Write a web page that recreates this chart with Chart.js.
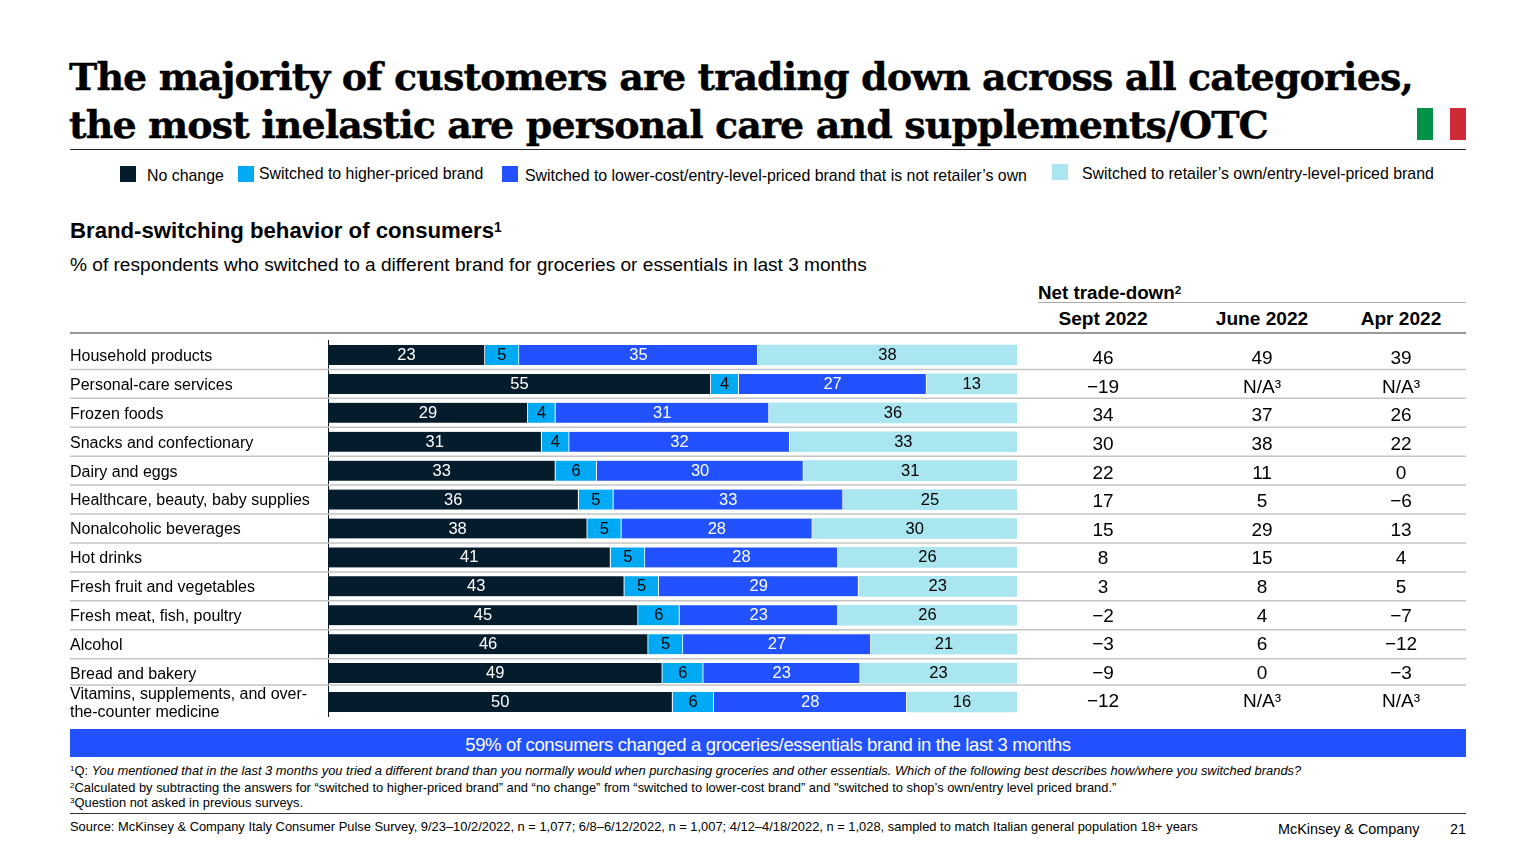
<!DOCTYPE html>
<html lang="en">
<head>
  <meta charset="UTF-8">
  <title>Brand-switching behavior of consumers</title>
  <script src="https://cdn.jsdelivr.net/npm/chart.js"></script>
  <style>
    body { margin: 0; background: #fff; width: 1536px; height: 864px; overflow: hidden; position: relative; font-family: 'Liberation Sans', sans-serif; color: #000; }
    .t { position: absolute; white-space: nowrap; line-height: 1; }
    .t sup { font-size: 62%; line-height: 0; vertical-align: baseline; position: relative; top: -0.45em; }
    .rule { position: absolute; left: 70px; width: 1396px; }
    h1 { position: absolute; left: 69px; top: 53px; margin: 0; font: bold 38px/48px 'DejaVu Serif', serif; letter-spacing: -0.9px; -webkit-text-stroke: 0.4px #000; color: #000; white-space: nowrap; }
    #chartWrapper { position: absolute; left: 70px; top: 320px; width: 1396px; height: 410px; }
    #banner { position: absolute; left: 70px; top: 729px; width: 1396px; height: 28px; background: #2251ff; color: #fff; text-align: center; font-size: 18.5px; line-height: 31px; letter-spacing: -0.35px; }
    #flag { position: absolute; left: 1417px; top: 108px; width: 49px; height: 32px; background: linear-gradient(90deg, #009246 33.3%, #fff 33.3%, #fff 66.6%, #ce2b37 66.6%); }
    .swatch { position: absolute; width: 16px; height: 16px; }
    .head { font-weight: bold; font-size: 19.1px; transform: translateX(-50%); }
    .note { font-size: 12.9px; }
  </style>
</head>
<body>
  <h1>The majority of customers are trading down across all categories,<br>the most inelastic are personal care and supplements/OTC</h1>
  <div id="flag"></div>
  <div class="rule" style="top:149px;height:1px;background:#222"></div>

  <div id="legend"></div>

  <div class="t" style="left:70px;top:220px;font-size:22.2px;font-weight:bold">Brand-switching behavior of consumers<sup>1</sup></div>
  <div class="t" style="left:70px;top:255px;font-size:19.1px">% of respondents who switched to a different brand for groceries or essentials in last 3 months</div>

  <div class="t" style="left:1038px;top:284px;font-size:18.8px;font-weight:bold">Net trade-down<sup>2</sup></div>
  <div class="rule" style="left:1038px;width:428px;top:302px;height:1px;background:#aaa"></div>
  <div class="t head" style="left:1103px;top:309px">Sept 2022</div>
  <div class="t head" style="left:1262px;top:309px">June 2022</div>
  <div class="t head" style="left:1401px;top:309px">Apr 2022</div>
  <div class="rule" style="top:332px;height:2px;background:#999"></div>

  <div id="chartWrapper"><canvas id="brandChart" width="1396" height="410"></canvas></div>

  <div id="banner">59% of consumers changed a groceries/essentials brand in the last 3 months</div>

  <div class="t note" style="left:70px;top:765px"><sup>1</sup>Q: <i>You mentioned that in the last 3 months you tried a different brand than you normally would when purchasing groceries and other essentials. Which of the following best describes how/where you switched brands?</i></div>
  <div class="t note" style="left:70px;top:782px"><sup>2</sup>Calculated by subtracting the answers for “switched to higher-priced brand” and “no change” from “switched to lower-cost brand” and "switched to shop’s own/entry level priced brand.”</div>
  <div class="t note" style="left:70px;top:797px"><sup>3</sup>Question not asked in previous surveys.</div>
  <div class="rule" style="top:813px;height:1px;background:#333"></div>
  <div class="t note" style="left:70px;top:821px">Source: McKinsey &amp; Company Italy Consumer Pulse Survey, 9/23–10/2/2022, n = 1,077; 6/8–6/12/2022, n = 1,007; 4/12–4/18/2022, n = 1,028, sampled to match Italian general population 18+ years</div>
  <div class="t" style="left:1278px;top:822px;font-size:14.4px">McKinsey &amp; Company</div>
  <div class="t" style="left:1450px;top:822px;font-size:14.4px">21</div>

  <script>
    const categories = [
      "Household products", "Personal-care services", "Frozen foods", "Snacks and confectionary",
      "Dairy and eggs", "Healthcare, beauty, baby supplies", "Nonalcoholic beverages", "Hot drinks",
      "Fresh fruit and vegetables", "Fresh meat, fish, poultry", "Alcohol", "Bread and bakery",
      ["Vitamins, supplements, and over-", "the-counter medicine"]
    ];
    const seriesNames = [
      "No change",
      "Switched to higher-priced brand",
      "Switched to lower-cost/entry-level-priced brand that is not retailer’s own",
      "Switched to retailer’s own/entry-level-priced brand"
    ];
    const noChange = [23, 55, 29, 31, 33, 36, 38, 41, 43, 45, 46, 49, 50];
    const higherPriced = [5, 4, 4, 4, 6, 5, 5, 5, 5, 6, 5, 6, 6];
    const lowerCost = [35, 27, 31, 32, 30, 33, 28, 28, 29, 23, 27, 23, 28];
    const ownBrand = [38, 13, 36, 33, 31, 25, 30, 26, 23, 26, 21, 23, 16];
    // null = question not asked
    const netSept = [46, -19, 34, 30, 22, 17, 15, 8, 3, -2, -3, -9, -12];
    const netJune = [49, null, 37, 38, 11, 5, 29, 15, 8, 4, 6, 0, null];
    const netApr = [39, null, 26, 22, 0, -6, 13, 4, 5, -7, -12, -3, null];

    const seriesValues = [noChange, higherPriced, lowerCost, ownBrand];
    const seriesColors = ["#051c2c", "#00a9f4", "#2251ff", "#aae6f0"];
    const labelColors = ["#fff", "#000", "#fff", "#000"];

    // legend is spaced unevenly in the original so it is placed by hand
    const legendSwatchX = [120, 238, 502, 1052];
    const legendSwatchY = [166, 166, 166, 164];
    const legendTextX = [147, 259, 525, 1082];
    const legendTextY = [168, 166, 168, 166];
    seriesNames.forEach((name, i) => {
      document.getElementById("legend").insertAdjacentHTML("beforeend",
        `<div class="swatch" style="left:${legendSwatchX[i]}px;top:${legendSwatchY[i]}px;background:${seriesColors[i]}"></div>` +
        `<div class="t" style="left:${legendTextX[i]}px;top:${legendTextY[i]}px;font-size:15.9px">${name}</div>`);
    });

    // rounded answers add up to 99-101, the bars always fill the full width
    const rowTotals = categories.map((c, i) => seriesValues.reduce((sum, s) => sum + s[i], 0));
    const datasets = seriesNames.map((name, s) => ({
      label: name,
      data: seriesValues[s].map((v, i) => v / rowTotals[i] * 100),
      backgroundColor: seriesColors[s],
      borderColor: "#fff",
      borderWidth: { right: s < 3 ? 1 : 0 },
      borderSkipped: false,
      barThickness: 20
    }));

    const formatNet = v => v === null ? "N/A³" : v < 0 ? "−" + Math.abs(v) : String(v);

    const tablePlugin = {
      id: "tablePlugin",
      beforeDatasetsDraw(chart) {
        const { ctx, width, scales: { y } } = chart;
        ctx.save();
        ctx.strokeStyle = "#c4c4c4";
        ctx.lineWidth = 1.5;
        for (let i = 0; i < categories.length - 1; i++) {
          // last row is taller because of its two-line label
          const lift = i === categories.length - 2 ? 2.5 : 0;
          const yy = (y.getPixelForValue(i) + y.getPixelForValue(i + 1)) / 2 - lift;
          ctx.beginPath();
          ctx.moveTo(0, yy);
          ctx.lineTo(width, yy);
          ctx.stroke();
        }
        ctx.restore();
      },
      afterDatasetsDraw(chart) {
        const { ctx, scales: { y } } = chart;
        ctx.save();
        ctx.textBaseline = "middle";
        ctx.textAlign = "center";
        // values inside the bars
        ctx.font = "16.5px 'Liberation Sans'";
        seriesValues.forEach((values, s) => {
          chart.getDatasetMeta(s).data.forEach((bar, i) => {
            ctx.fillStyle = labelColors[s];
            ctx.fillText(values[i], (bar.x + bar.base) / 2, bar.y + 0.5);
          });
        });
        // net trade-down columns, their rows sit a little tighter than the bars
        ctx.font = "19px 'Liberation Sans'";
        ctx.fillStyle = "#000";
        [[netSept, 1033], [netJune, 1192], [netApr, 1331]].forEach(([values, x]) => {
          values.forEach((v, i) => ctx.fillText(formatNet(v), x, y.getPixelForValue(i) + 4 - i / 3));
        });
        ctx.restore();
      }
    };

    new Chart(document.getElementById("brandChart").getContext("2d"), {
      type: "bar",
      data: { labels: categories, datasets },
      plugins: [tablePlugin],
      options: {
        indexAxis: "y",
        responsive: false,
        animation: false,
        layout: { padding: { top: 20.5, bottom: 13.5, right: 449 } },
        plugins: { legend: { display: false }, tooltip: { enabled: false } },
        scales: {
          x: { stacked: true, display: false, min: 0, max: 100 },
          y: {
            stacked: true,
            afterFit(scale) { scale.width = 258; },
            grid: { display: false, drawTicks: false },
            border: { display: true, color: "#051c2c", width: 1 },
            ticks: {
              autoSkip: false,
              crossAlign: "far",
              padding: 0,
              labelOffset: 1.5,
              color: "#000",
              font: { family: "'Liberation Sans'", size: 16, lineHeight: 1.15 }
            }
          }
        }
      }
    });
  </script>
</body>
</html>
